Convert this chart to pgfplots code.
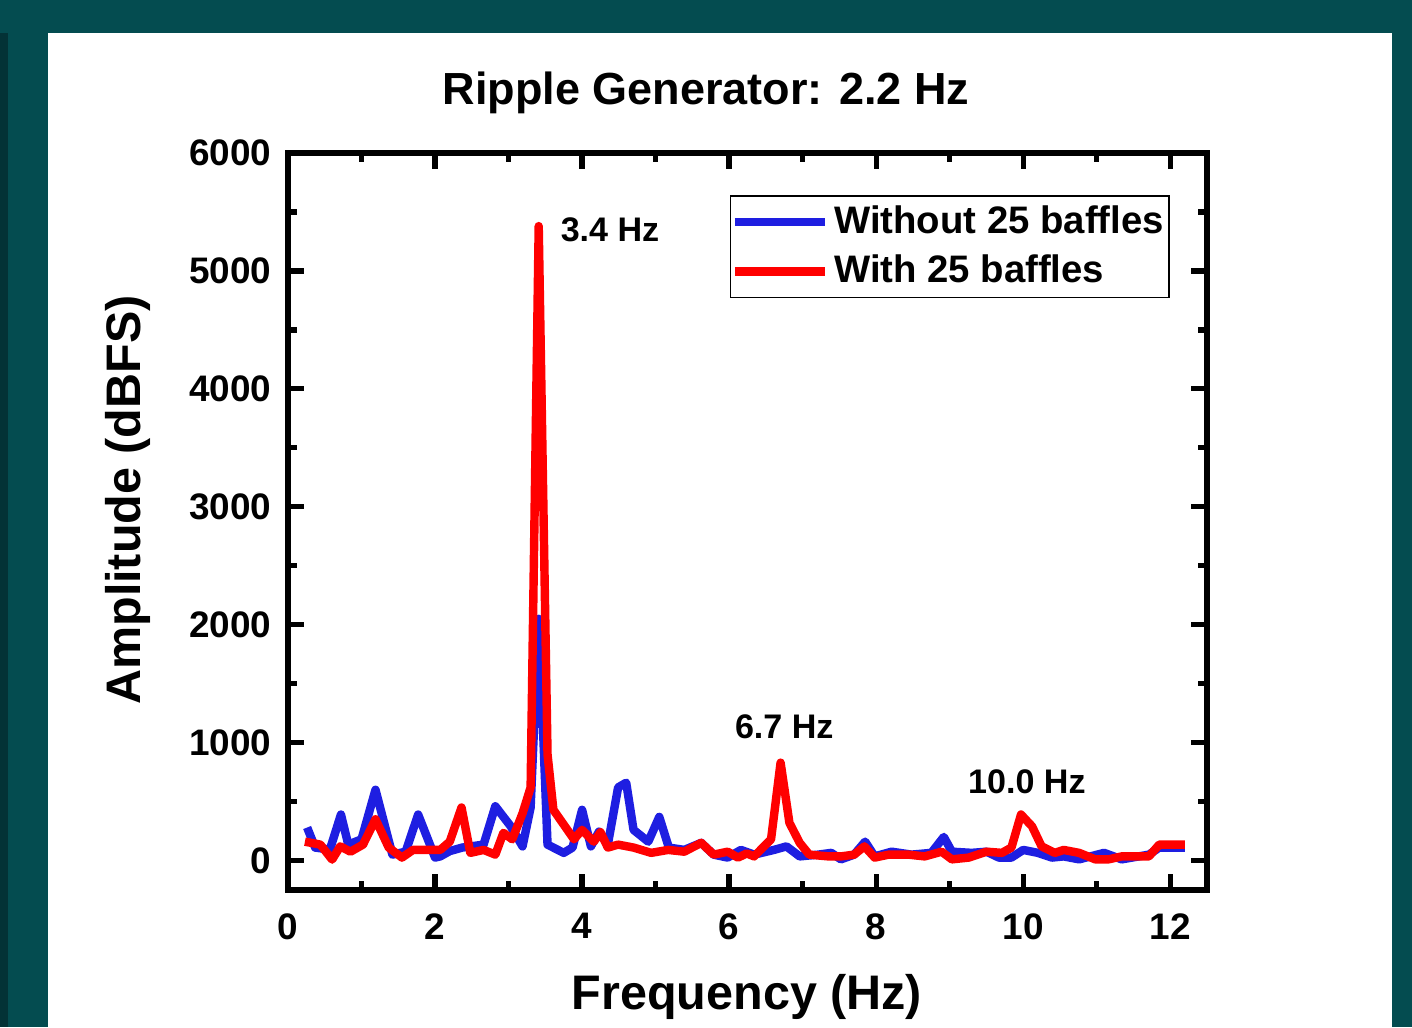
\documentclass[border=0pt]{standalone}
\usepackage{pgfplots}
\pgfplotsset{compat=1.18}
\usepackage{fontspec}
\setmainfont{Liberation Sans}
\definecolor{bgteal}{RGB}{4,76,80}
\definecolor{darkstrip}{RGB}{3,50,54}
\definecolor{lineblue}{RGB}{30,30,225}
\definecolor{linered}{RGB}{255,0,0}
\begin{document}
\begin{tikzpicture}[x=1cm,y=1cm]
\fill[bgteal] (0,0) rectangle (14.12,10.27);
\fill[white] (0.48,0) rectangle (13.92,9.94);
\fill[darkstrip] (0,0) rectangle (0.08,9.94);
\path[use as bounding box] (0,0) rectangle (14.12,10.27);
\begin{axis}[
  at={(2.88cm,1.37cm)}, anchor=south west,
  scale only axis, width=9.19cm, height=7.37cm,
  xmin=0, xmax=12.5, ymin=-250, ymax=6000,
  xtick={0,2,...,12}, ytick={0,1000,...,6000},
  minor x tick num=1, minor y tick num=1,
  tick align=inside,
  major tick length=1.6mm, minor tick length=0.9mm,
  line width=1.6pt,
  every tick/.style={black, line width=1.5pt},
  /pgf/number format/assume math mode=true,
  /pgf/number format/1000 sep={},
  tick label style={font=\fontsize{10.5}{12}\selectfont\bfseries},
  xticklabel style={yshift=-0.9mm},
  yticklabel style={xshift=-0.2mm},
  legend style={at={(0.9597,0.943)}, anchor=north east, draw=black, line width=0.5pt,
    font=\fontsize{10.9}{12}\selectfont\bfseries, inner xsep=0pt, inner ysep=0.7pt,
    row sep=0.25mm, nodes={inner xsep=1.5pt}},
  legend cell align=left,
  legend image code/.code={\draw[#1] (0cm,0cm) -- (0.9cm,0cm);},
]
\addplot[lineblue, line width=2.4pt, line join=round] coordinates {
(0.26,280) (0.37,110) (0.57,93) (0.72,390) (0.82,135) (1.0,180) (1.19,600)
(1.42,50) (1.6,75) (1.77,390) (2.0,25) (2.07,35) (2.2,80) (2.37,110) (2.66,135)
(2.82,460) (3.03,290) (3.19,120) (3.3,450) (3.41,2050) (3.53,135) (3.75,65)
(3.87,110) (4.0,430) (4.12,120) (4.23,245) (4.35,135) (4.49,620) (4.6,660)
(4.7,260) (4.9,160) (5.05,370) (5.18,110) (5.39,90) (5.62,150) (5.79,50)
(5.98,25) (6.16,90) (6.34,50) (6.61,90) (6.78,120) (6.96,35) (7.21,50)
(7.39,65) (7.52,10) (7.7,50) (7.85,160) (7.98,35) (8.21,75) (8.48,50)
(8.75,65) (8.92,200) (9.03,75) (9.3,65) (9.5,75) (9.67,25) (9.84,25)
(10.0,90) (10.2,65) (10.39,25) (10.55,35) (10.76,10) (11.1,65) (11.34,10)
(11.71,50) (11.85,110) (12.2,110)
};
\addlegendentry{Without 25 baffles}
\addplot[linered, line width=2.4pt, line join=round] coordinates {
(0.23,160) (0.44,135) (0.6,8) (0.71,120) (0.85,75) (1.02,135) (1.19,350)
(1.37,110) (1.55,25) (1.7,90) (2.07,90) (2.2,160) (2.36,450) (2.48,65)
(2.66,90) (2.82,50) (2.93,235) (3.05,180) (3.19,400) (3.3,620) (3.41,5380)
(3.53,900) (3.61,430) (3.89,180) (4.0,260) (4.16,160) (4.25,240) (4.35,110)
(4.49,135) (4.7,110) (4.94,65) (5.17,90) (5.39,75) (5.62,150) (5.79,50)
(5.98,75) (6.12,25) (6.24,60) (6.34,35) (6.57,180) (6.7,830) (6.82,320)
(6.96,150) (7.09,50) (7.35,35) (7.52,35) (7.7,50) (7.84,120) (7.98,25)
(8.17,50) (8.44,50) (8.66,35) (8.89,75) (9.03,10) (9.26,25) (9.5,75)
(9.71,65) (9.84,110) (9.97,390) (10.12,290) (10.25,120) (10.43,65)
(10.55,90) (10.76,65) (10.98,10) (11.16,10) (11.34,35) (11.71,35)
(11.85,135) (12.2,135)
};
\addlegendentry{With 25 baffles}
\node[font=\fontsize{9.7}{11}\selectfont\bfseries] at (axis cs:4.38,5347) {3.4 Hz};
\node[font=\fontsize{9.7}{11}\selectfont\bfseries] at (axis cs:6.75,1136) {6.7 Hz};
\node[font=\fontsize{9.7}{11}\selectfont\bfseries] at (axis cs:10.05,670) {10.0 Hz};
\end{axis}
\node[font=\fontsize{12.8}{15}\selectfont\bfseries] at (7.06,9.34) {Ripple Generator: 2.2 Hz};
\node[font=\fontsize{13.8}{16}\selectfont\bfseries, rotate=90] at (1.28,5.27) {Amplitude (dBFS)};
\node[font=\fontsize{13.8}{16}\selectfont\bfseries] at (7.47,0.30) {Frequency (Hz)};
\end{tikzpicture}
\end{document}
